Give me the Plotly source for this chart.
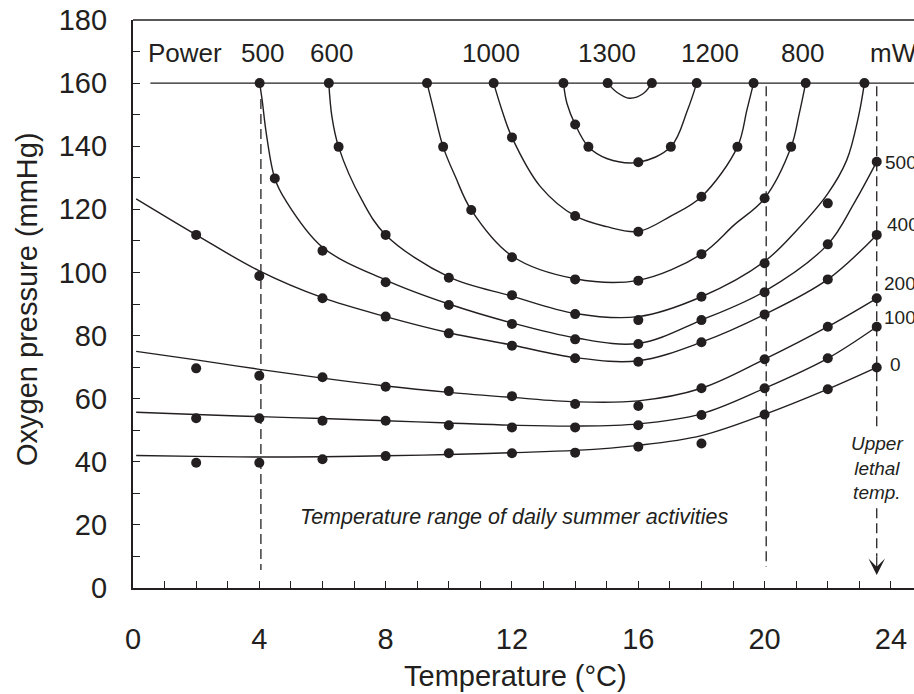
import plotly.graph_objects as go

# ---------------- data ----------------
T_COLS = [2, 4, 6, 8, 10, 12, 14, 16, 18, 20, 22, 23.55]

# measured points (dots) for each power level (mW)
dots_0_T = T_COLS
dots_0_P = [39.7, 39.7, 40.8, 41.8, 42.7, 42.7, 42.9, 44.8, 45.8, 55.0, 63.0, 69.9]
dots_100_T = T_COLS
dots_100_P = [53.8, 53.8, 53.0, 53.0, 51.6, 50.9, 50.9, 51.6, 54.8, 63.3, 72.8, 82.8]
dots_200_T = T_COLS
dots_200_P = [69.6, 67.3, 66.8, 63.8, 62.4, 60.8, 58.3, 57.7, 63.3, 72.5, 82.8, 91.8]
dots_400_T = T_COLS
dots_400_P = [111.9, 98.9, 91.8, 86.0, 80.7, 76.8, 72.8, 71.7, 77.9, 86.7, 97.8, 111.9]
dots_500_T = [4.01, 4.49, 6, 8, 10, 12, 14, 16, 18, 20, 22, 23.55]
dots_500_P = [160, 129.8, 106.9, 96.9, 89.7, 83.7, 78.8, 77.3, 84.9, 93.7, 108.9, 135.1]
dots_600_T = [6.20, 6.51, 8, 10, 12, 14, 16, 18, 20, 22, 23.16]
dots_600_P = [160, 139.8, 111.9, 98.3, 92.8, 86.8, 84.9, 92.3, 102.9, 121.9, 160]
dots_800_T = [9.31, 9.82, 10.71, 12, 14, 16, 18, 20, 20.84, 21.30]
dots_800_P = [160, 139.8, 119.8, 104.8, 97.8, 97.4, 105.8, 123.5, 139.8, 160]
dots_1000_T = [11.42, 12, 14, 16, 18, 19.14, 19.65]
dots_1000_P = [160, 142.8, 117.9, 112.9, 124.0, 139.8, 160]
dots_1200_T = [13.63, 14.0, 14.42, 16, 17.03, 17.85]
dots_1200_P = [160, 146.9, 139.8, 134.9, 139.8, 160]
dots_1300_T = [15.03, 16.43]
dots_1300_P = [160, 160]

# fitted isopleth curves
LINE_T_LOW = [0.1, 2, 4, 6, 8, 10, 12, 14, 16, 18, 20, 22, 23.55]
line_0_T = LINE_T_LOW
line_0_P = [42.0, 41.7, 41.5, 41.6, 41.9, 42.3, 42.9, 43.6, 45.2, 48.3, 55.0, 63.0, 69.9]
line_100_T = LINE_T_LOW
line_100_P = [55.7, 55.0, 54.3, 53.7, 53.0, 52.3, 51.6, 51.3, 52.0, 55.2, 63.3, 72.8, 82.8]
line_200_T = LINE_T_LOW
line_200_P = [75.0, 72.3, 69.3, 66.5, 64.0, 62.0, 60.4, 59.0, 59.3, 63.3, 72.5, 82.8, 91.8]
line_400_T = LINE_T_LOW
line_400_P = [123.3, 111.9, 100.5, 92.0, 86.0, 80.9, 77.0, 73.0, 72.0, 77.9, 86.7, 97.8, 111.9]
line_500_T = [4.01, 4.09, 4.22, 4.49, 4.83, 6, 8, 10, 12, 14, 16, 18, 20, 22, 22.83, 23.55]
line_500_P = [160, 154.6, 144.1, 129.8, 122.9, 108, 97.6, 90, 84, 79.3, 77.5, 84.9, 94, 108.9, 121.9, 135.1]
line_600_T = [6.20, 6.30, 6.51, 7.25, 8, 10, 12, 14, 16, 18, 20, 21.02, 22, 22.60, 22.97, 23.16]
line_600_P = [160, 149.3, 139.8, 122.9, 111.9, 98.6, 92.5, 87.0, 86.0, 92.3, 103.5, 113.4, 125, 135.6, 149.3, 160]
line_800_T = [9.31, 9.52, 9.82, 10.21, 10.71, 12, 14, 16, 18, 19.03, 20, 20.84, 21.09, 21.30]
line_800_P = [160, 151.5, 139.8, 130.3, 119.8, 105.2, 98, 97.5, 105.8, 115, 123.5, 139.8, 150, 160]
line_1000_T = [11.42, 11.68, 12, 12.9, 14, 15, 16, 17, 18, 19.14, 19.44, 19.65]
line_1000_P = [160, 151.5, 142.8, 127.2, 117.9, 114.5, 113, 117.7, 124, 139.8, 151.5, 160]
line_1200_T = [13.63, 13.74, 14.0, 14.42, 15, 16, 17.03, 17.56, 17.85]
line_1200_P = [160, 153.6, 146.9, 139.8, 136.1, 134.9, 139.8, 151.5, 160]
line_1300_T = [15.03, 15.32, 15.72, 16.16, 16.43]
line_1300_P = [160, 157.1, 155.2, 156.7, 160]

# labels
top_labels = ["Power", "500", "600", "1000", "1300", "1200", "800", "mW"]
top_label_T = [1.66, 4.09, 6.29, 11.34, 15.0, 18.27, 21.21, 24.07]
TOP_LABEL_P = 169.7
right_labels = ["500", "400", "200", "100", "0"]
right_label_T = [23.76, 23.81, 23.71, 23.71, 23.92]
right_label_P = [135.0, 115.3, 96.5, 85.6, 70.9]

x_ticks = [0, 4, 8, 12, 16, 20, 24]
y_ticks = [0, 20, 40, 60, 80, 100, 120, 140, 160, 180]

summer_T = [4.05, 20.05]
lethal_T = 23.55
top_line_P = 160
top_line_T0 = 0.55

# ---------------- figure ----------------
INK = "#231f20"
FONT = "Liberation Sans, Arial, Helvetica, sans-serif"
fig = go.Figure()

lines = [(line_0_T, line_0_P), (line_100_T, line_100_P), (line_200_T, line_200_P),
         (line_400_T, line_400_P), (line_500_T, line_500_P), (line_600_T, line_600_P),
         (line_800_T, line_800_P), (line_1000_T, line_1000_P), (line_1200_T, line_1200_P),
         (line_1300_T, line_1300_P)]
for lt, lp in lines:
    fig.add_trace(go.Scatter(x=lt, y=lp, mode="lines",
                             line=dict(color=INK, width=1.4, shape="spline", smoothing=1.0),
                             hoverinfo="skip", cliponaxis=False))

dots = [(dots_0_T, dots_0_P), (dots_100_T, dots_100_P), (dots_200_T, dots_200_P),
        (dots_400_T, dots_400_P), (dots_500_T, dots_500_P), (dots_600_T, dots_600_P),
        (dots_800_T, dots_800_P), (dots_1000_T, dots_1000_P), (dots_1200_T, dots_1200_P),
        (dots_1300_T, dots_1300_P)]
for dt, dp in dots:
    fig.add_trace(go.Scatter(x=dt, y=dp, mode="markers",
                             marker=dict(color=INK, size=10, line=dict(width=0)),
                             cliponaxis=False))

shapes = []
# horizontal 160 mmHg line
shapes.append(dict(type="line", xref="x", yref="y", x0=top_line_T0, x1=24.73,
                   y0=top_line_P, y1=top_line_P, line=dict(color=INK, width=1.4)))
# top frame line
shapes.append(dict(type="line", xref="paper", yref="paper", x0=0, x1=1, y0=1, y1=1,
                   line=dict(color=INK, width=1.6)))
# dashed summer-range lines
shapes.append(dict(type="line", xref="x", yref="y", x0=summer_T[0], x1=summer_T[0],
                   y0=155, y1=5.7, line=dict(color=INK, width=1.3, dash="10px,5px")))
shapes.append(dict(type="line", xref="x", yref="y", x0=summer_T[1], x1=summer_T[1],
                   y0=159, y1=6.7, line=dict(color=INK, width=1.3, dash="10px,5px")))
# upper lethal temperature line
shapes.append(dict(type="line", xref="x", yref="y", x0=lethal_T, x1=lethal_T,
                   y0=159, y1=50.7, line=dict(color=INK, width=1.3, dash="10px,5px")))
shapes.append(dict(type="line", xref="x", yref="y", x0=lethal_T, x1=lethal_T,
                   y0=25.3, y1=10, line=dict(color=INK, width=1.3, dash="10px,5px")))

annotations = []
for txt, tx in zip(top_labels, top_label_T):
    annotations.append(dict(x=tx, y=TOP_LABEL_P, xref="x", yref="y", text=txt,
                            showarrow=False, xanchor="center", yanchor="middle",
                            font=dict(size=26, color=INK, family=FONT)))
for txt, tx, ty in zip(right_labels, right_label_T, right_label_P):
    annotations.append(dict(x=tx, y=ty, xref="x", yref="y", text=txt,
                            showarrow=False, xanchor="left", yanchor="middle",
                            font=dict(size=19, color=INK, family=FONT)))
annotations.append(dict(x=lethal_T, y=38.0, xref="x", yref="y",
                        text="<i>Upper</i><br><i>lethal</i><br><i>temp.</i>",
                        showarrow=False, xanchor="center", yanchor="middle", align="center",
                        font=dict(size=19, color=INK, family=FONT)))
annotations.append(dict(x=lethal_T, y=4.1, xref="x", yref="y", text="",
                        showarrow=True, ax=0, ay=-20, axref="pixel", ayref="pixel",
                        arrowhead=3, arrowsize=2.3, arrowwidth=1.2, arrowcolor=INK))
annotations.append(dict(x=12.06, y=22.6, xref="x", yref="y",
                        text="<i>Temperature range of daily summer activities</i>",
                        showarrow=False, xanchor="center", yanchor="middle",
                        font=dict(size=21.5, color=INK, family=FONT)))
# axis titles
annotations.append(dict(x=(515 - 133) / 781, y=(588 - 676) / 568, xref="paper", yref="paper",
                        text="Temperature (°C)", showarrow=False,
                        xanchor="center", yanchor="middle",
                        font=dict(size=29, color=INK, family=FONT)))
annotations.append(dict(x=(27 - 133) / 781, y=(588 - 299) / 568, xref="paper", yref="paper",
                        text="Oxygen pressure (mmHg)", showarrow=False, textangle=-90,
                        xanchor="center", yanchor="middle",
                        font=dict(size=29, color=INK, family=FONT)))

fig.update_layout(
    width=914, height=694,
    margin=dict(l=133, r=0, t=20, b=106, pad=0),
    plot_bgcolor="white", paper_bgcolor="white",
    showlegend=False,
    font=dict(family=FONT, color=INK),
    shapes=shapes, annotations=annotations,
    xaxis=dict(range=[0, 24.73], tickvals=x_ticks, ticktext=[str(v) for v in x_ticks],
               ticks="inside", ticklen=7, tickwidth=1.3, tickcolor=INK,
               minor=dict(dtick=1, tick0=0, ticks="inside", ticklen=7, tickwidth=1.3, tickcolor=INK),
               showline=True, linewidth=2.2, linecolor=INK, showgrid=False, zeroline=False,
               tickfont=dict(size=29, color=INK, family=FONT), ticklabelstandoff=24),
    yaxis=dict(range=[0, 180], tickvals=y_ticks, ticktext=[str(v) for v in y_ticks],
               ticks="inside", ticklen=7, tickwidth=1.3, tickcolor=INK,
               minor=dict(dtick=10, tick0=0, ticks="inside", ticklen=7, tickwidth=1.3, tickcolor=INK),
               showline=True, linewidth=2.2, linecolor=INK, showgrid=False, zeroline=False,
               tickfont=dict(size=29, color=INK, family=FONT), ticklabelstandoff=18),
)

fig.write_html("out.html")
